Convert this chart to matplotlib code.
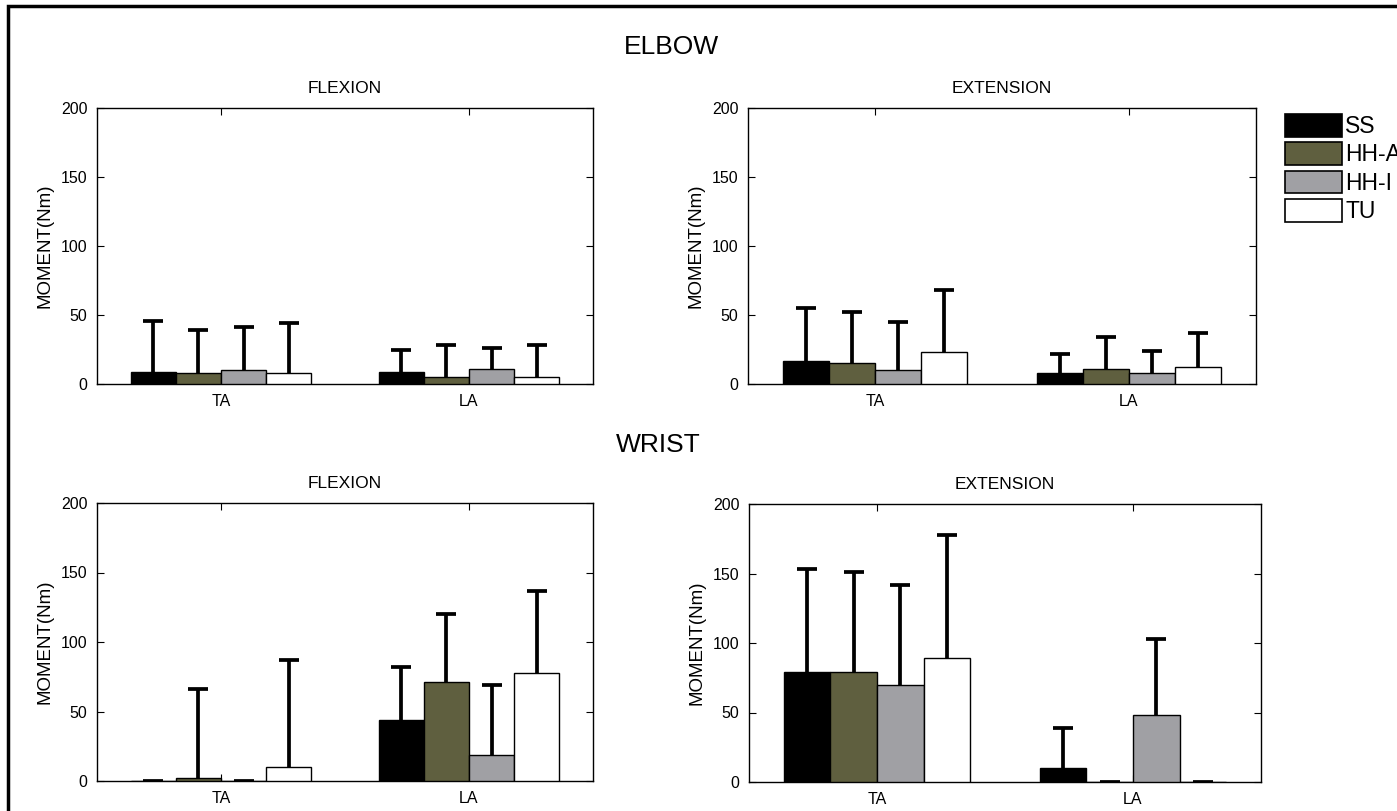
import numpy as np
import matplotlib
matplotlib.use("Agg")
import matplotlib.pyplot as plt
from matplotlib.patches import Rectangle, Patch

plt.rcParams['font.family'] = ['Liberation Sans', 'DejaVu Sans']

groups = ["TA", "LA"]
series = ["SS", "HH-A", "HH-I", "TU"]
colors = ["#000000", "#5f5f3f", "#a0a0a4", "#ffffff"]

# mean values [series][group] and upper error-bar tops (mean + sd)
elbow_flex = [[9, 9], [8, 5], [10, 11], [8, 5]]
elbow_flex_top = [[46, 25], [39, 28], [41, 26], [44, 28]]
elbow_ext = [[17, 8], [15, 11], [10, 8], [23, 12]]
elbow_ext_top = [[55, 22], [52, 34], [45, 24], [68, 37]]
wrist_flex = [[0, 44], [2, 71], [0, 19], [10, 78]]
wrist_flex_top = [[0, 82], [66, 120], [0, 69], [87, 137]]
wrist_ext = [[79, 10], [79, 0], [70, 48], [89, 0]]
wrist_ext_top = [[153, 39], [151, 0], [142, 103], [178, 0]]

W, H = 1397, 811
fig = plt.figure(figsize=(W / 100, H / 100), dpi=100)


def px_axes(l, r, t, b):
    return fig.add_axes([l / W, 1 - b / H, (r - l) / W, (b - t) / H])


def draw_panel(ax, means, tops, title):
    n = len(series)
    group_w = n / (n + 1.5)
    bw = group_w / n
    x = np.arange(1, len(groups) + 1)
    for i in range(n):
        xs = x - group_w / 2 + bw * (i + 0.5)
        m = np.array(means[i], dtype=float)
        t = np.array(tops[i], dtype=float)
        ax.bar(xs, m, width=bw, color=colors[i], edgecolor="black",
               linewidth=1.0, zorder=3)
        eb = ax.errorbar(xs, m, yerr=[np.zeros_like(m), t - m], fmt="none",
                         ecolor="black", elinewidth=2.7, capsize=7,
                         capthick=2.7, zorder=2)
        eb[1][0].set_visible(False)
    ax.set_xlim(0.5, 2.5)
    ax.set_ylim(0, 200)
    ax.set_yticks([0, 50, 100, 150, 200])
    ax.set_xticks(x)
    ax.set_xticklabels(groups)
    ax.tick_params(direction="in", top=True, right=True, length=5,
                   labelsize=11.5, pad=7, width=0.8)
    ax.set_ylabel("MOMENT(Nm)", fontsize=13.5, labelpad=5)
    ax.set_title(title, fontsize=12.5, pad=11)
    for s in ax.spines.values():
        s.set_linewidth(1.0)


ax1 = px_axes(97, 593, 108, 384)
ax2 = px_axes(748, 1256, 108, 384)
ax3 = px_axes(97, 593, 503, 781)
ax4 = px_axes(749, 1261, 504, 782)

draw_panel(ax1, elbow_flex, elbow_flex_top, "FLEXION")
draw_panel(ax2, elbow_ext, elbow_ext_top, "EXTENSION")
draw_panel(ax3, wrist_flex, wrist_flex_top, "FLEXION")
draw_panel(ax4, wrist_ext, wrist_ext_top, "EXTENSION")

fig.text(671 / W, 1 - 47 / H, "ELBOW", fontsize=19, ha="center", va="center")
fig.text(658 / W, 1 - 445 / H, "WRIST", fontsize=19, ha="center", va="center")

handles = [Patch(facecolor=c, edgecolor="black", linewidth=1.2) for c in colors]
fig.legend(handles, series, loc="upper left",
           bbox_to_anchor=(1285 / W, 1 - 114 / H), frameon=False,
           fontsize=16.5, handlelength=2.5, handleheight=1.15,
           labelspacing=0.18, handletextpad=0.12, borderaxespad=0,
           borderpad=0)

fig.add_artist(Rectangle((8 / W, -0.1), 1.2, 1.1 - 6 / H,
                         transform=fig.transFigure, fill=False,
                         edgecolor="black", linewidth=2.5))

fig.savefig("out.png", dpi=100)
